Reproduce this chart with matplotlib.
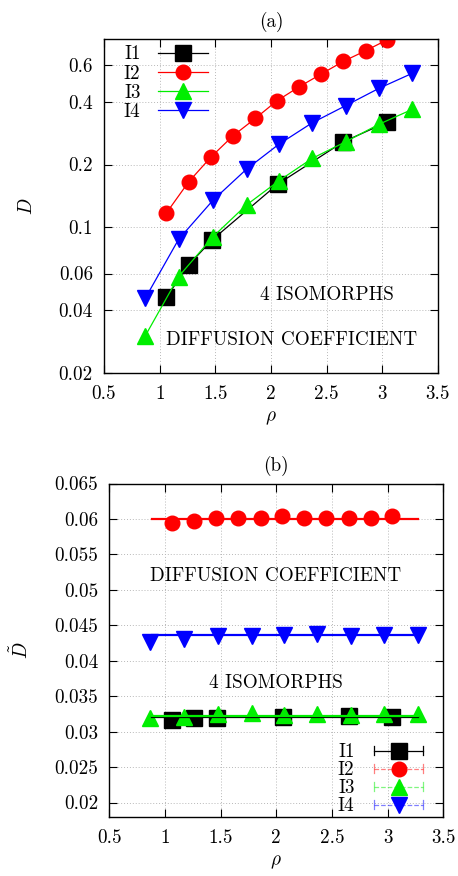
import matplotlib
matplotlib.use("Agg")
import matplotlib.pyplot as plt
from matplotlib.lines import Line2D
from matplotlib.legend_handler import HandlerBase
from matplotlib.ticker import NullLocator, FixedLocator, FixedFormatter

plt.rcParams['font.family'] = 'serif'
plt.rcParams['font.serif'] = ['cmr10']
plt.rcParams['mathtext.fontset'] = 'cm'
plt.rcParams['axes.unicode_minus'] = False

# ---------------- data ----------------
labels = ["I1", "I2", "I3", "I4"]
colors = ["black", "red", "#00ee00", "blue"]
markers = ["s", "o", "^", "v"]

rho_I1 = [1.06, 1.26, 1.47, 2.06, 2.65, 3.04]
rho_I2 = [1.06, 1.26, 1.46, 1.66, 1.86, 2.05, 2.25, 2.45, 2.65, 2.85, 3.04]
rho_I3 = [0.87, 1.17, 1.48, 1.78, 2.07, 2.37, 2.67, 2.97, 3.27]
rho_I4 = [0.87, 1.17, 1.48, 1.78, 2.07, 2.37, 2.67, 2.97, 3.27]

D_I1 = [0.0461, 0.0659, 0.0869, 0.161, 0.257, 0.319]
D_I2 = [0.117, 0.165, 0.217, 0.275, 0.333, 0.403, 0.471, 0.543, 0.625, 0.703, 0.791]
D_I3 = [0.0301, 0.058, 0.0902, 0.128, 0.167, 0.214, 0.257, 0.312, 0.368]
D_I4 = [0.0456, 0.0875, 0.135, 0.190, 0.250, 0.317, 0.383, 0.464, 0.548]

Dt_I1 = [0.0317, 0.0319, 0.0319, 0.0321, 0.0322, 0.0321]
Dt_I2 = [0.0594, 0.0597, 0.0601, 0.0602, 0.0601, 0.0604, 0.0601, 0.0602, 0.0602, 0.0601, 0.0604]
Dt_I3 = [0.0319, 0.0321, 0.0325, 0.0326, 0.0324, 0.0325, 0.0324, 0.0325, 0.0325]
Dt_I4 = [0.0426, 0.0431, 0.0435, 0.0435, 0.0436, 0.0438, 0.0435, 0.0436, 0.0436]

fit_range = [0.88, 3.27]
fit_I1 = 0.0320
fit_I2 = 0.0600
fit_I3 = 0.0322
fit_I4 = 0.04365

xticks = [0.5, 1, 1.5, 2, 2.5, 3, 3.5]
xticklabels = ["0.5", "1", "1.5", "2", "2.5", "3", "3.5"]
yticks_a = [0.02, 0.04, 0.06, 0.1, 0.2, 0.4, 0.6]
yticklabels_a = ["0.02", "0.04", "0.06", "0.1", "0.2", "0.4", "0.6"]
yticks_b = [0.02, 0.025, 0.03, 0.035, 0.04, 0.045, 0.05, 0.055, 0.06, 0.065]
yticklabels_b = ["0.02", "0.025", "0.03", "0.035", "0.04", "0.045", "0.05", "0.055", "0.06", "0.065"]

FS = 13.8
ms_sq, ms_o, ms_tri = 12, 10.5, 12
msizes = [ms_sq, ms_o, ms_tri, ms_tri]

fig = plt.figure(figsize=(4.58, 8.76), dpi=100)
ax1 = fig.add_axes([104/458, (876-373)/876, 334/458, 334/876])
ax2 = fig.add_axes([109.3/458, (876-816.7)/876, 334/458, 333.2/876])


def style(ax):
    ax.tick_params(direction='in', top=True, right=True, length=6, width=0.8,
                   labelsize=FS, pad=8)
    ax.tick_params(axis='x', pad=9)
    for s in ax.spines.values():
        s.set_linewidth(1.0)
    ax.grid(True, color='#b8b8b8', linestyle=(0, (1, 2)), linewidth=0.7)
    ax.set_axisbelow(True)
    ax.set_xlim(0.5, 3.5)
    ax.xaxis.set_major_locator(FixedLocator(xticks))
    ax.xaxis.set_major_formatter(FixedFormatter(xticklabels))
    ax.xaxis.set_minor_locator(NullLocator())


# ---------------- panel (a) ----------------
xs = [rho_I1, rho_I2, rho_I3, rho_I4]
ys = [D_I1, D_I2, D_I3, D_I4]
for x, y, c, m, ms, lab in zip(xs, ys, colors, markers, msizes, labels):
    ax1.plot(x, y, color=c, lw=0.9, marker=m, ms=ms, mec=c, mfc=c, label=lab)
ax1.set_yscale('log')
ax1.set_ylim(0.02, 0.8)
style(ax1)
ax1.yaxis.set_major_locator(FixedLocator(yticks_a))
ax1.yaxis.set_major_formatter(FixedFormatter(yticklabels_a))
ax1.yaxis.set_minor_locator(NullLocator())
ax1.set_xlabel(r'$\rho$', fontsize=FS, labelpad=4)
ax1.set_ylabel(r'$D$', fontsize=FS, labelpad=16)
ax1.set_title('(a)', fontsize=FS, pad=9)
ax1.text(0.667, 0.2335, '4 ISOMORPHS', transform=ax1.transAxes, ha='center', va='center', fontsize=FS)
ax1.text(0.563, 0.099, 'DIFFUSION COEFFICIENT', transform=ax1.transAxes, ha='center', va='center', fontsize=FS)
ax1.legend(loc='upper left', bbox_to_anchor=(0.045, 0.995), frameon=False, markerfirst=False,
           numpoints=1, handlelength=2.6, fontsize=FS, labelspacing=0.07,
           borderaxespad=0.1, borderpad=0.15, handletextpad=0.9)

# ---------------- panel (b) ----------------
xs_b = [rho_I1, rho_I2, rho_I3, rho_I4]
ys_b = [Dt_I1, Dt_I2, Dt_I3, Dt_I4]
fits = [fit_I1, fit_I2, fit_I3, fit_I4]
for x, y, c, m, ms in zip(xs_b, ys_b, colors, markers, msizes):
    ax2.plot(x, y, ls='none', marker=m, ms=ms, mec=c, mfc=c, zorder=3)
for f, c in zip(fits, colors):
    ax2.plot(fit_range, [f, f], color=c, lw=1.6, zorder=4)
ax2.set_ylim(0.018, 0.065)
style(ax2)
ax2.yaxis.set_major_locator(FixedLocator(yticks_b))
ax2.yaxis.set_major_formatter(FixedFormatter(yticklabels_b))
ax2.set_xlabel(r'$\rho$', fontsize=FS, labelpad=4)
ax2.set_ylabel(r'$\tilde{D}$', fontsize=FS, labelpad=16)
ax2.set_title('(b)', fontsize=FS, pad=9)
ax2.text(0.499, 0.722, 'DIFFUSION COEFFICIENT', transform=ax2.transAxes, ha='center', va='center', fontsize=FS)
ax2.text(0.499, 0.402, '4 ISOMORPHS', transform=ax2.transAxes, ha='center', va='center', fontsize=FS)


class HandlerErr(HandlerBase):
    def create_artists(self, legend, orig, xdescent, ydescent, width, height, fontsize, trans):
        y = height / 2 - ydescent
        x0, x1 = -xdescent, width - xdescent
        c = orig.get_color()
        ls = orig.get_linestyle()
        lw = orig.get_linewidth()
        alpha = orig.get_alpha()
        h = height * 0.35
        arts = [Line2D([x0, x1], [y, y], color=c, ls=ls, lw=lw, alpha=alpha),
                Line2D([x0, x0], [y - h, y + h], color=c, lw=lw, alpha=alpha),
                Line2D([x1, x1], [y - h, y + h], color=c, lw=lw, alpha=alpha),
                Line2D([(x0 + x1) / 2], [y], marker=orig.get_marker(), ms=orig.get_markersize(),
                       mfc=c, mec=c, ls='none')]
        for a in arts:
            a.set_transform(trans)
        return arts


leg_ls = ['-', (0, (3, 2)), (0, (3, 2)), (0, (1, 1.5))]
leg_alpha = [1.0, 0.5, 0.5, 0.5]
handles = []
for c, m, ms, ls, al in zip(colors, markers, msizes, leg_ls, leg_alpha):
    h = Line2D([], [], color=c, marker=m, ms=ms, ls=ls, lw=0.9)
    h.set_alpha(al)
    handles.append(h)
ax2.legend(handles, labels, loc='lower right', bbox_to_anchor=(0.955, -0.01), frameon=False,
           markerfirst=False, handlelength=2.6, fontsize=FS, labelspacing=0.0,
           borderaxespad=0.1, borderpad=0.15, handletextpad=1.0,
           handler_map={h: HandlerErr() for h in handles})

fig.savefig('out.png', dpi=100)
